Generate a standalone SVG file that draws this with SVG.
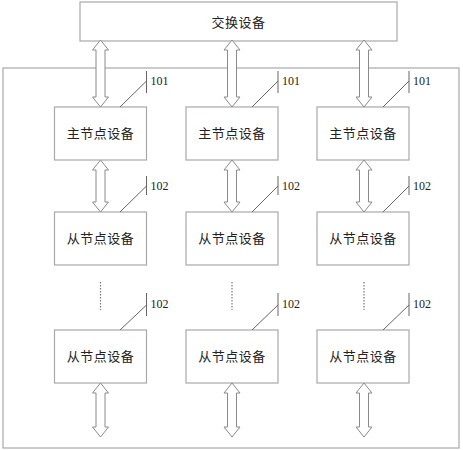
<svg xmlns="http://www.w3.org/2000/svg" width="463" height="450" viewBox="0 0 463 450">
<style>
.box{fill:#fff;stroke:#a8a8a8;stroke-width:1.2}
.arr{fill:#fff;stroke:#8a8a8a;stroke-width:1}
.ld{stroke:#666;stroke-width:1;fill:none}
.dot{stroke:#777;stroke-width:1.2;stroke-dasharray:1.5 1.5;fill:none}
.cn{font-family:"Noto Sans CJK SC","Noto Sans CJK JP",sans-serif;font-size:13px;fill:#222;text-anchor:middle;letter-spacing:0.5px}
.num{font-family:"Liberation Serif",serif;font-size:12px;fill:#222}
</style>
<rect width="463" height="450" fill="#fff"/>
<g id="outer"><rect class="box" x="3" y="68" width="456" height="380"/></g>
<g id="switch"><rect class="box" x="80" y="2" width="317" height="39"/><text class="cn" x="238.5" y="27">交换设备</text></g>
<g id="master1"><rect class="box" x="54.5" y="107" width="92" height="53"/><text class="cn" x="100.5" y="138">主节点设备</text></g>
<g id="master2"><rect class="box" x="186" y="107" width="92" height="53"/><text class="cn" x="232" y="138">主节点设备</text></g>
<g id="master3"><rect class="box" x="317" y="107" width="92" height="53"/><text class="cn" x="363" y="138">主节点设备</text></g>
<g id="slave1a"><rect class="box" x="54.5" y="212" width="92" height="53"/><text class="cn" x="100.5" y="243">从节点设备</text></g>
<g id="slave2a"><rect class="box" x="186" y="212" width="92" height="53"/><text class="cn" x="232" y="243">从节点设备</text></g>
<g id="slave3a"><rect class="box" x="317" y="212" width="92" height="53"/><text class="cn" x="363" y="243">从节点设备</text></g>
<g id="slave1b"><rect class="box" x="54.5" y="330" width="92" height="53"/><text class="cn" x="100.5" y="361">从节点设备</text></g>
<g id="slave2b"><rect class="box" x="186" y="330" width="92" height="53"/><text class="cn" x="232" y="361">从节点设备</text></g>
<g id="slave3b"><rect class="box" x="317" y="330" width="92" height="53"/><text class="cn" x="363" y="361">从节点设备</text></g>
<g id="connectors">
<path class="arr" d="M100.5,40 L108.5,50 L105,50 L105,97 L108.5,97 L100.5,107 L92.5,97 L96,97 L96,50 L92.5,50 Z"/>
<path class="arr" d="M232,40 L240,50 L236.5,50 L236.5,97 L240,97 L232,107 L224,97 L227.5,97 L227.5,50 L224,50 Z"/>
<path class="arr" d="M364,40 L372,50 L368.5,50 L368.5,97 L372,97 L364,107 L356,97 L359.5,97 L359.5,50 L356,50 Z"/>
<path class="arr" d="M100.5,160 L108.5,170 L105,170 L105,202 L108.5,202 L100.5,212 L92.5,202 L96,202 L96,170 L92.5,170 Z"/>
<path class="arr" d="M232,160 L240,170 L236.5,170 L236.5,202 L240,202 L232,212 L224,202 L227.5,202 L227.5,170 L224,170 Z"/>
<path class="arr" d="M364,160 L372,170 L368.5,170 L368.5,202 L372,202 L364,212 L356,202 L359.5,202 L359.5,170 L356,170 Z"/>
<path class="arr" d="M100.5,383 L108.5,393 L105,393 L105,427 L108.5,427 L100.5,437 L92.5,427 L96,427 L96,393 L92.5,393 Z"/>
<path class="arr" d="M232,383 L240,393 L236.5,393 L236.5,427 L240,427 L232,437 L224,427 L227.5,427 L227.5,393 L224,393 Z"/>
<path class="arr" d="M364,383 L372,393 L368.5,393 L368.5,427 L372,427 L364,437 L356,427 L359.5,427 L359.5,393 L356,393 Z"/>
<line class="dot" x1="100.5" y1="282" x2="100.5" y2="310"/>
<line class="dot" x1="232" y1="282" x2="232" y2="310"/>
<line class="dot" x1="364" y1="282" x2="364" y2="310"/>
<path class="ld" d="M120,107 L146.5,81 M146.5,71 V93"/>
<path class="ld" d="M252,107 L278,81 M278,71 V93"/>
<path class="ld" d="M383,107 L409,81 M409,71 V93"/>
<path class="ld" d="M120,212 L146.5,186 M146.5,176 V195"/>
<path class="ld" d="M252,212 L278,186 M278,176 V195"/>
<path class="ld" d="M383,212 L409,186 M409,176 V195"/>
<path class="ld" d="M120,330 L146.5,305 M146.5,293 V316"/>
<path class="ld" d="M252,330 L278,305 M278,293 V316"/>
<path class="ld" d="M383,330 L409,305 M409,293 V316"/>
</g>
<g id="labels">
<text class="num" x="150.5" y="85">101</text>
<text class="num" x="282" y="85">101</text>
<text class="num" x="413" y="85">101</text>
<text class="num" x="150.5" y="190">102</text>
<text class="num" x="282" y="190">102</text>
<text class="num" x="413" y="190">102</text>
<text class="num" x="150.5" y="308">102</text>
<text class="num" x="282" y="308">102</text>
<text class="num" x="413" y="308">102</text>
</g>
</svg>
